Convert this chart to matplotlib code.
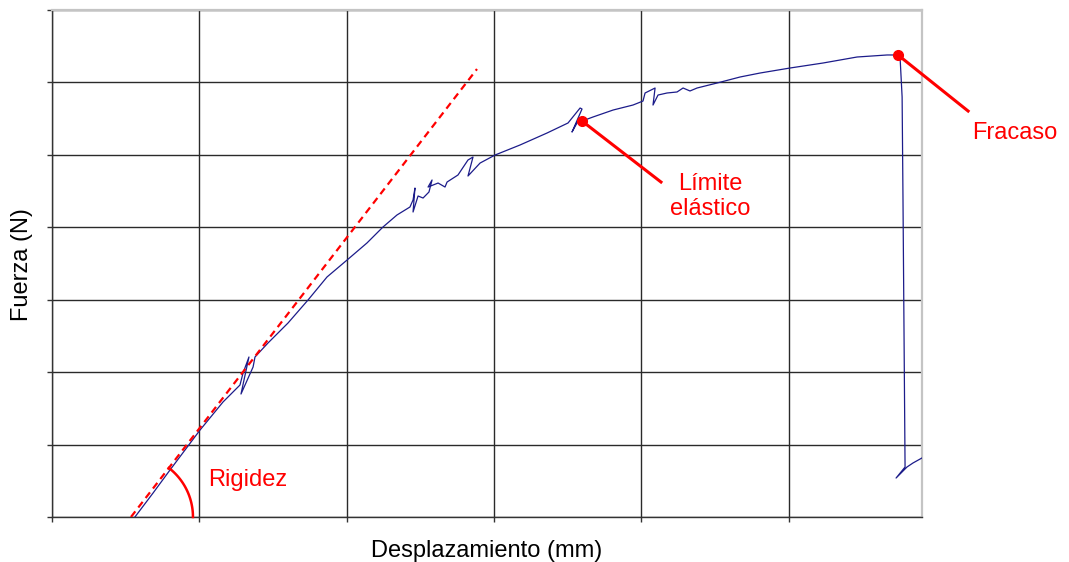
import numpy as np
import matplotlib
matplotlib.use("Agg")
import matplotlib.pyplot as plt

plt.rcParams['font.family'] = ['Liberation Sans', 'DejaVu Sans']

# Force-displacement curve (grid units; no tick labels in the original)
disp = [0.563, 0.686, 0.801, 1.005, 1.161, 1.276, 1.297, 1.337, 1.283, 1.365,
        1.378, 1.466, 1.602, 1.738, 1.867, 2.003, 2.138, 2.247, 2.342, 2.430,
        2.451, 2.464, 2.451, 2.485, 2.519, 2.559, 2.580, 2.553, 2.621, 2.668,
        2.682, 2.756, 2.824, 2.858, 2.824, 2.906, 3.008, 3.177, 3.361, 3.503,
        3.585, 3.598, 3.530, 3.564, 3.598, 3.673, 3.809, 3.944, 4.012, 4.026,
        4.094, 4.080, 4.114, 4.175, 4.243, 4.284, 4.331, 4.379, 4.515, 4.671,
        4.807, 5.010, 5.234, 5.465, 5.669, 5.743, 5.757, 5.771, 5.777, 5.791,
        5.730, 5.804, 5.845, 5.906]
force = [0.000, 0.331, 0.649, 1.201, 1.588, 1.822, 1.988, 2.209, 1.698, 2.071,
         2.209, 2.402, 2.678, 2.996, 3.314, 3.548, 3.783, 4.004, 4.170, 4.280,
         4.377, 4.542, 4.211, 4.432, 4.404, 4.487, 4.653, 4.556, 4.611, 4.556,
         4.625, 4.722, 4.929, 4.970, 4.708, 4.887, 4.998, 5.136, 5.302, 5.440,
         5.647, 5.633, 5.315, 5.440, 5.467, 5.523, 5.619, 5.688, 5.743, 5.854,
         5.923, 5.688, 5.826, 5.854, 5.868, 5.923, 5.882, 5.923, 5.992, 6.075,
         6.130, 6.199, 6.268, 6.351, 6.379, 6.379, 6.351, 5.799, 4.377, 0.690,
         0.538, 0.690, 0.746, 0.815]

# Stiffness line (two points)
stiff_x = [0.536, 2.885]
stiff_y = [0.0, 6.185]

# Marked points
yield_pt = (3.598, 5.467)
fail_pt = (5.743, 6.379)

x_ticks = [0, 1, 2, 3, 4, 5]
y_ticks = [0, 1, 2, 3, 4, 5, 6, 7]

fig = plt.figure(figsize=(10.69, 5.62), dpi=100)
ax = fig.add_axes([52/1069, 45/562, 870/1069, 507/562])
ax.set_xlim(0, 5.906)
ax.set_ylim(0, 7)
ax.set_xticks(x_ticks)
ax.set_yticks(y_ticks)
ax.set_xticklabels([])
ax.set_yticklabels([])
ax.tick_params(direction='out', length=3.5, width=1, color='#333333')
ax.grid(True, color='#2a2a2a', lw=1.0)
ax.set_axisbelow(True)
for s in ['left', 'bottom']:
    ax.spines[s].set_color('#333333')
    ax.spines[s].set_linewidth(1.0)
for s in ['top', 'right']:
    ax.spines[s].set_color('#c4c4c4')
    ax.spines[s].set_linewidth(1.6)

ax.plot(disp, force, color='#1c1c8a', lw=0.9, zorder=3)
ax.plot(stiff_x, stiff_y, color='#ff0000', lw=1.6, dashes=(3.2, 2.2), zorder=4)

# Stiffness arc (circular in pixel space)
sx = 870 / 5.906
sy = 507 / 7.0
ang = np.arctan2((stiff_y[1] - stiff_y[0]) * sy, (stiff_x[1] - stiff_x[0]) * sx)
t = np.linspace(0, ang, 60)
r = 62
ax.plot(stiff_x[0] + r * np.cos(t) / sx, stiff_y[0] + r * np.sin(t) / sy,
        color='#ff0000', lw=1.8, zorder=4, clip_on=False)
ax.text(1.059, 0.511, 'Rigidez', color='#ff0000', fontsize=17, va='center', ha='left')

# Yield point
ax.plot([yield_pt[0], 4.134], [yield_pt[1], 4.625], color='#ff0000', lw=2.2, zorder=5)
ax.plot(*yield_pt, 'o', color='#ff0000', ms=7, zorder=6)
ax.text(4.467, 4.425, 'Límite\nelástico', color='#ff0000', fontsize=17,
        ha='center', va='center', linespacing=1.15)

# Failure point
ax.plot([fail_pt[0], 6.219], [fail_pt[1], 5.605], color='#ff0000', lw=2.2, zorder=5, clip_on=False)
ax.plot(*fail_pt, 'o', color='#ff0000', ms=7, zorder=6, clip_on=False)
ax.text(6.246, 5.302, 'Fracaso', color='#ff0000', fontsize=17, ha='left', va='center',
        clip_on=False)

fig.text(487/1069, 1 - 551/562, 'Desplazamiento (mm)', fontsize=17, ha='center', va='center')
fig.text(22/1069, 1 - 265/562, 'Fuerza (N)', fontsize=17, ha='center', va='center', rotation=90)

fig.savefig('out.png', dpi=100)
